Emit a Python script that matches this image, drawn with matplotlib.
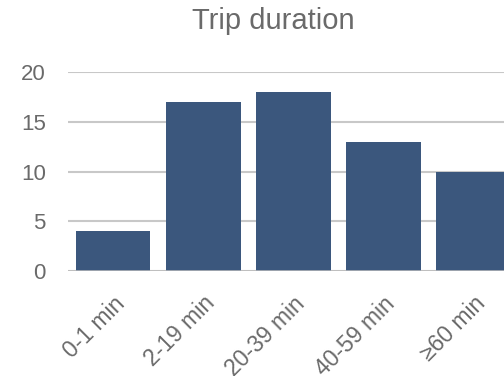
import matplotlib
matplotlib.use('Agg')
import matplotlib.pyplot as plt
import numpy as np

# Trip duration counts
categories = ['0-1 min', '2-19 min', '20-39 min', '40-59 min', '\u226560 min']
counts = [4, 17, 18, 13, 10]
yticks = [0, 5, 10, 15, 20]

plt.rcParams['font.family'] = ['Liberation Sans', 'DejaVu Sans']

fig = plt.figure(figsize=(5.04, 3.76), dpi=100)
# axes runs past the right edge, like the cropped original
ax = fig.add_axes([68 / 504, 105 / 376, 450.5 / 504, 199 / 376])

x = np.arange(len(categories))
ax.bar(x, counts, width=0.83, color='#3b577d', zorder=3)

ax.set_xlim(-0.5, 4.5)
ax.set_ylim(0, 20)
ax.set_yticks(yticks)
ax.yaxis.grid(True, color='#c8c8c8', linewidth=1.5, zorder=0)
ax.axhline(0, color='#bdbdbd', linewidth=1.8, zorder=4)

for s in ax.spines.values():
    s.set_visible(False)

ax.tick_params(axis='y', length=0, pad=16, labelsize=16, labelcolor='#6a6a6a')
ax.tick_params(axis='x', length=0, pad=15, labelsize=16.5, labelcolor='#6a6a6a')
ax.set_xticks(x)
ax.set_xticklabels(categories, rotation=45, ha='right', rotation_mode='anchor')

fig.text(273 / 504, 1 - 21 / 376, 'Trip duration', ha='center', va='center',
         fontsize=21, color='#6a6a6a')

fig.savefig('out.png', dpi=100)
